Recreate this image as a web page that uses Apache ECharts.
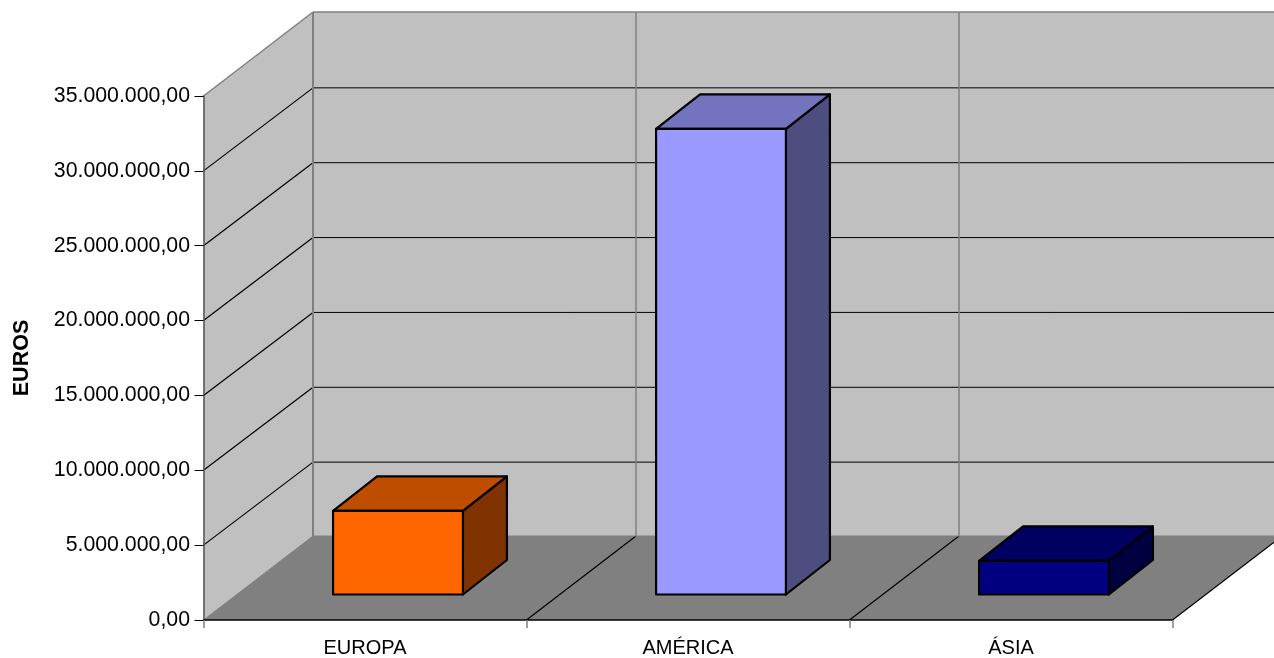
<!DOCTYPE html>
<html>
<head>
<meta charset="utf-8">
<style>html,body{margin:0;padding:0;background:#fff}#chart{width:1274px;height:658px}</style>
<script src="https://cdn.jsdelivr.net/npm/echarts@6/dist/echarts.min.js"></script>
</head>
<body>
<div id="chart"></div>
<script>
const regions = ['EUROPA', 'AMÉRICA', 'ÁSIA'];
const euros = [5580000, 31100000, 2250000];
const tickValues = [0, 5000000, 10000000, 15000000, 20000000, 25000000, 30000000, 35000000];
const axisTitle = 'EUROS';
const frontColors = ['#FF6600', '#9999FF', '#000080'];
const topColors = ['#BF4D00', '#7373BF', '#000060'];
const sideColors = ['#803300', '#4D4D80', '#000040'];

const DEPTH_X = 109.5, DEPTH_Y = -84, GRID_DEPTH_Y = -83;
const BAR_SHIFT_X = 33, BAR_SHIFT_Y = -25.5;
const BAR_DEPTH_X = 44, BAR_DEPTH_Y = -34.5;
const BAR_RATIO = 0.402;
const FONT = '"Liberation Sans", Arial, sans-serif';

function formatEuro(v) {
  const s = String(Math.round(v)).replace(/\B(?=(\d{3})+(?!\d))/g, '.');
  return s + ',00';
}
function poly(points, fill, stroke, lineWidth, z2) {
  return { type: 'polygon', z2: z2 || 0, shape: { points: points },
    style: { fill: fill, stroke: stroke || null, lineWidth: lineWidth || 0, lineJoin: 'round' } };
}
function line(a, b, stroke, lineWidth, z2) {
  return { type: 'line', z2: z2 || 1,
    shape: { x1: a[0], y1: a[1], x2: b[0], y2: b[1] },
    style: { stroke: stroke, lineWidth: lineWidth } };
}
function back(p) { return [p[0] + DEPTH_X, p[1] + DEPTH_Y]; }
function backGrid(p) { return [p[0] + DEPTH_X, p[1] + GRID_DEPTH_Y]; }

function renderWalls(params, api) {
  const n = regions.length;
  const band = api.size([1, 0])[0];
  const maxV = tickValues[tickValues.length - 1];
  const cat0 = api.coord([0, 0]);
  const x0 = cat0[0] - band / 2;
  const yBase = cat0[1];
  const yTop = api.coord([0, maxV])[1];
  const x1 = x0 + band * n;
  const fl = [x0, yBase], fr = [x1, yBase], tl = [x0, yTop], tr = [x1, yTop];
  const ch = [
    poly([fl, tl, back(tl), back(fl)], '#C0C0C0'),
    poly([back(fl), back(tl), back(tr), back(fr)], '#C0C0C0'),
    poly([fl, fr, back(fr), back(fl)], '#808080')
  ];
  tickValues.slice(1, -1).forEach(function (v) {
    const y = api.coord([0, v])[1];
    ch.push(line([x0, y], backGrid([x0, y]), '#000', 1.2));
    ch.push(line(backGrid([x0, y]), backGrid([x1, y]), '#000', 1));
  });
  for (let i = 1; i < n; i++) {
    const x = x0 + band * i;
    ch.push(line([x, yBase], back([x, yBase]), '#000', 1.2));
    ch.push(line(back([x, yBase]), back([x, yTop]), '#808080', 1.5));
  }
  ch.push(line(tl, back(tl), '#808080', 1.5, 2));
  ch.push(line(back(tl), back(tr), '#808080', 1.5, 2));
  ch.push(line(back(tl), back(fl), '#808080', 2, 2));
  ch.push(line(back(fl), back(fr), '#808080', 1, 2));
  ch.push(line(fl, back(fl), '#808080', 1, 2));
  ch.push(line(fr, back(fr), '#000', 1.2, 2));
  return { type: 'group', children: ch };
}

function renderBar(params, api) {
  const i = api.value(0);
  const top = api.coord([i, api.value(1)]);
  const base = api.coord([i, 0]);
  const w = api.size([1, 0])[0] * BAR_RATIO;
  const l = top[0] + BAR_SHIFT_X - w / 2, r = l + w;
  const yt = top[1] + BAR_SHIFT_Y, yb = base[1] + BAR_SHIFT_Y;
  const d = function (p) { return [p[0] + BAR_DEPTH_X, p[1] + BAR_DEPTH_Y]; };
  const s = '#000', lw = 2.2;
  return { type: 'group', children: [
    poly([[r, yb], [r, yt], d([r, yt]), d([r, yb])], sideColors[i], s, lw),
    poly([[l, yt], [r, yt], d([r, yt]), d([l, yt])], topColors[i], s, lw),
    poly([[l, yb], [l, yt], [r, yt], [r, yb]], frontColors[i], s, lw)
  ] };
}

const chart = echarts.init(document.getElementById('chart'), null, { renderer: 'canvas' });
chart.setOption({
  animation: false,
  backgroundColor: '#fff',
  textStyle: { fontFamily: FONT },
  grid: { left: 203.5, right: 101.5, top: 96, bottom: 38, containLabel: false },
  xAxis: {
    type: 'category', data: regions, z: 3,
    boundaryGap: true,
    axisLine: { show: true, lineStyle: { color: '#000', width: 1.5 } },
    axisTick: { show: true, length: 8, alignWithLabel: false, lineStyle: { color: '#808080', width: 1.5 } },
    axisLabel: { color: '#000', fontSize: 20, margin: 18, fontFamily: FONT },
    splitLine: { show: false }
  },
  yAxis: {
    type: 'value', min: 0, max: 35000000, interval: 5000000, z: 3,
    name: axisTitle, nameLocation: 'middle', nameRotate: 90, nameGap: 170,
    nameTextStyle: { color: '#000', fontSize: 21.5, fontWeight: 'bold', fontFamily: FONT },
    axisLine: { show: true, onZero: false, lineStyle: { color: '#555', width: 1.5 } },
    axisTick: { show: true, length: 9, lineStyle: { color: '#000', width: 1 } },
    axisLabel: { color: '#000', fontSize: 21.3, margin: 13.5, formatter: formatEuro, fontFamily: FONT },
    splitLine: { show: false }
  },
  series: [
    { type: 'custom', z: 1, silent: true, clip: false, renderItem: renderWalls,
      data: [[0, 0]], encode: { x: 0, y: 1 } },
    { type: 'custom', z: 2, silent: true, clip: false, renderItem: renderBar,
      data: euros.map(function (v, i) { return [i, v]; }), encode: { x: 0, y: 1 } }
  ]
});
</script>
</body>
</html>
